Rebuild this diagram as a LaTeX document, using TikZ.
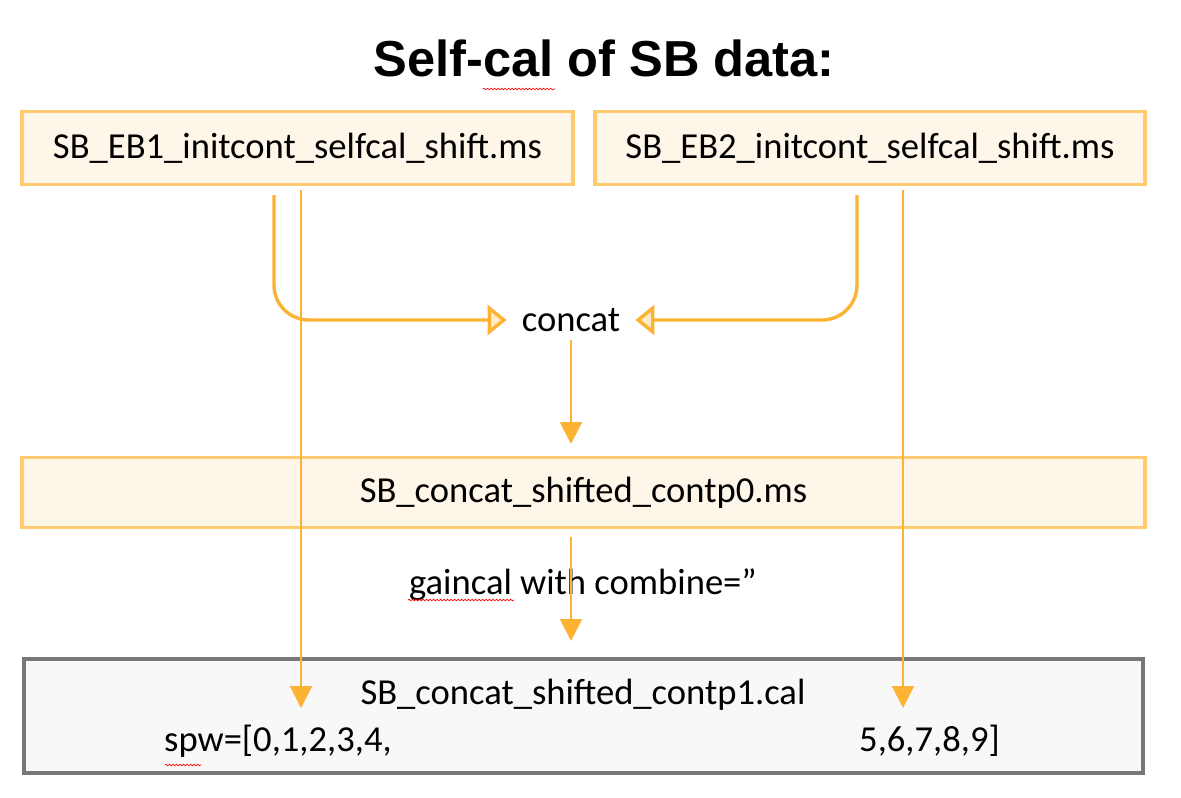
\documentclass[tikz,border=0pt]{standalone}
\usepackage{fontspec}
\setmainfont{Carlito}
\newfontfamily\titlefont{Liberation Sans}
\usetikzlibrary{arrows.meta,decorations.pathmorphing}
\definecolor{arr}{HTML}{FCB333}
\definecolor{boxline}{HTML}{FFCB6E}
\definecolor{boxfill}{HTML}{FEF6E8}
\definecolor{grayline}{HTML}{777777}
\definecolor{grayfill}{HTML}{F8F8F8}
\definecolor{headfill}{HTML}{FDEBC6}
\tikzset{
  msbox/.style={draw=boxline, fill=boxfill, line width=3.5pt, inner sep=0pt, font=\fontsize{36.6}{40}\selectfont},
  calbox/.style={draw=grayline, fill=grayfill, line width=4pt, inner sep=0pt},
  lbl/.style={inner sep=0pt, font=\fontsize{36.6}{40}\selectfont},
  thin arrow/.style={draw=arr, line width=2pt, -{Triangle[width=22pt,length=22pt]}},
  thick arrow/.style={draw=arr, line width=3.4pt, rounded corners=35pt, -{Triangle[open, fill=headfill, width=30pt,length=19pt]}},
  spell/.style={draw=red, line width=0.7pt, decorate, decoration={snake, amplitude=0.8pt, segment length=3.5pt}}
}
\begin{document}
\begin{tikzpicture}[x=1pt,y=-1pt]
\useasboundingbox (0,0) rectangle (1181,798);
\node[inner sep=0pt, font=\titlefont\bfseries\fontsize{50.6}{56}\selectfont] (title) at (604,58) {Self-cal of SB data:};
\node[msbox, minimum width=551pt, minimum height=73pt] (eb1) at (297.5,148) {SB\_EB1\_initcont\_selfcal\_shift.ms};
\node[msbox, minimum width=550pt, minimum height=73pt] (eb2) at (870,148) {SB\_EB2\_initcont\_selfcal\_shift.ms};
\node[lbl, inner xsep=15pt] (concat) at (571,320) {concat};
\node[msbox, minimum width=1123pt, minimum height=70pt] (c0) at (583.5,492.5) {SB\_concat\_shifted\_contp0.ms};
\node[calbox, minimum width=1119pt, minimum height=114pt] (c1) at (583.5,716) {};
\node[lbl] (c1t) at (583,695) {SB\_concat\_shifted\_contp1.cal};
\node[lbl, anchor=west] (spwa) at (164,741) {spw=[0,1,2,3,4,};
\node[lbl, anchor=west] (spwb) at (859,741) {5,6,7,8,9]};
\node[lbl] (gain) at (583,585) {gaincal with combine=”};
% spell-check marks
\draw[spell] (483,89) -- (555,89);
\draw[spell] (408,600) -- (514,600);
\draw[spell] (165,765) -- (201,765);
% connectors
\coordinate (s1) at (274,195);
\coordinate (s2) at (857,195);
\draw[thick arrow] (s1) |- (concat.west);
\draw[thick arrow] (s2) |- (concat.east);
\coordinate (t1) at (301,190);
\coordinate (t2) at (903,190);
\coordinate (e1) at (301,708);
\coordinate (e2) at (903,708);
\draw[thin arrow] (t1) -- (e1);
\draw[thin arrow] (t2) -- (e2);
\draw[thin arrow] (571,340) -- (571,444);
\draw[thin arrow] (571,537) -- (571,641);
\end{tikzpicture}
\end{document}
